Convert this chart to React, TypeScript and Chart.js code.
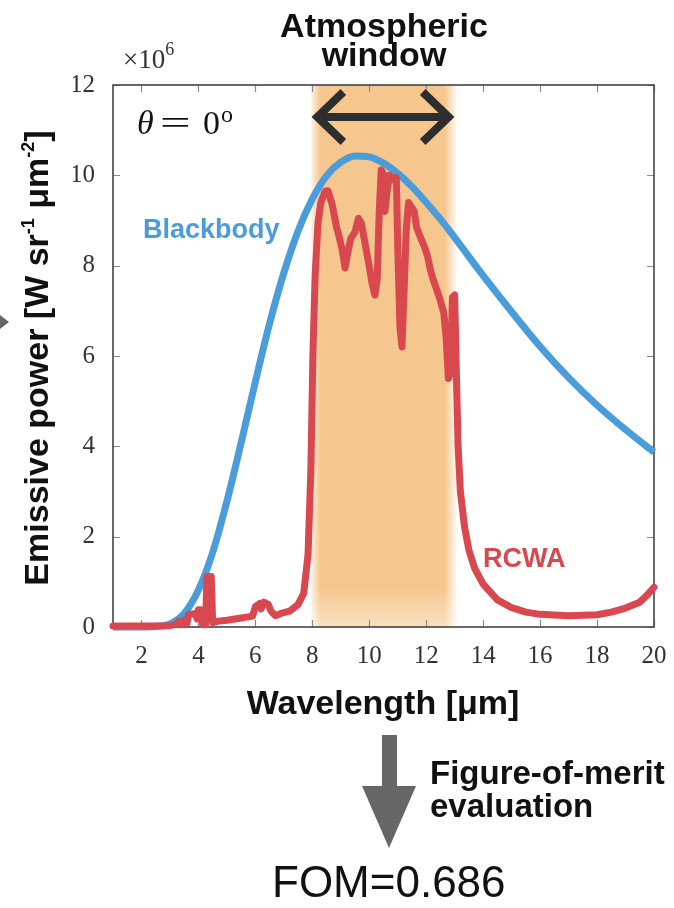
import React, { useEffect, useRef } from 'react';
import { Chart, registerables } from 'chart.js';
Chart.register(...registerables);

// ---------- data ----------
const BB_WL = [1, 1.5, 2, 2.5, 3, 3.5, 4, 4.5, 5, 5.5, 6, 6.5, 7, 7.5, 8, 8.5, 9, 9.5, 10, 10.5, 11, 11.5, 12, 12.5, 13, 14, 15, 16, 17, 18, 19, 20];
const BB_VAL = [0, 0, 0, 0.01, 0.07, 0.3, 0.82, 1.65, 2.78, 4.08, 5.43, 6.72, 7.84, 8.77, 9.48, 9.99, 10.29, 10.43, 10.41, 10.27, 10.04, 9.75, 9.4, 9.03, 8.62, 7.78, 6.98, 6.21, 5.52, 4.91, 4.37, 3.87];

const RCWA_WL = [1, 2, 3, 3.2, 3.3, 3.4, 3.5, 3.6, 3.65, 3.9, 3.95, 4.0, 4.1, 4.15, 4.25, 4.3, 4.45, 4.5, 4.7, 5.0, 5.5, 5.9, 6.0, 6.15, 6.2, 6.3, 6.45, 6.55, 6.7, 6.9, 7.2, 7.5, 7.7, 7.85, 7.95, 8.02, 8.1, 8.2, 8.3, 8.45, 8.55, 8.7, 8.85, 8.95, 9.05, 9.15, 9.25, 9.35, 9.5, 9.62, 9.72, 9.85, 9.98, 10.1, 10.2, 10.28, 10.35, 10.42, 10.48, 10.55, 10.62, 10.7, 10.78, 10.85, 10.95, 11.0, 11.08, 11.15, 11.22, 11.3, 11.38, 11.5, 11.58, 11.66, 11.75, 11.85, 11.95, 12.05, 12.15, 12.25, 12.35, 12.45, 12.55, 12.62, 12.7, 12.78, 12.85, 12.92, 13.0, 13.06, 13.12, 13.2, 13.35, 13.5, 13.7, 14.0, 14.5, 15.0, 15.5, 16.0, 17.0, 18.0, 18.5, 19.0, 19.5, 19.75, 20.0];
const RCWA_VAL = [0.02, 0.02, 0.03, 0.06, 0.12, 0.05, 0.15, 0.08, 0.28, 0.3, 0.18, 0.38, 0.38, 0.05, 0.05, 1.12, 1.12, 0.1, 0.13, 0.15, 0.2, 0.24, 0.45, 0.52, 0.4, 0.55, 0.5, 0.35, 0.25, 0.3, 0.35, 0.5, 0.75, 1.6, 3.5, 6.0, 7.8, 8.95, 9.4, 9.65, 9.66, 9.35, 8.85, 8.62, 8.35, 7.95, 8.3, 8.6, 8.75, 9.05, 8.95, 8.5, 8.05, 7.6, 7.35, 7.7, 9.2, 10.12, 10.05, 9.2, 9.6, 10.0, 9.95, 9.9, 9.95, 8.4, 6.6, 6.2, 7.4, 8.8, 9.4, 9.28, 9.2, 8.85, 8.7, 8.55, 8.4, 8.2, 7.9, 7.68, 7.5, 7.32, 7.1, 6.95, 6.4, 5.5, 5.6, 7.3, 7.35, 5.6, 4.0, 3.0, 2.2, 1.7, 1.3, 0.95, 0.6, 0.43, 0.33, 0.28, 0.25, 0.27, 0.33, 0.42, 0.55, 0.7, 0.88];

const X_TICKS = [2, 4, 6, 8, 10, 12, 14, 16, 18, 20];
const Y_TICKS = [0, 2, 4, 6, 8, 10, 12];
const WINDOW_START = 8;
const WINDOW_END = 13;

const BLUE = 'rgb(74,156,218)';
const RED = 'rgb(216,72,78)';
const SANS = '"Liberation Sans", Arial, sans-serif';
const SERIF = '"Liberation Serif", "Times New Roman", serif';

const W = 674;
const H = 908;

const bandPlugin = {
  id: 'band',
  beforeDatasetsDraw(chart: any) {
    const { ctx, chartArea, scales } = chart;
    const x0 = scales.x.getPixelForValue(WINDOW_START);
    const x1 = scales.x.getPixelForValue(WINDOW_END);
    const a = x0 - 1, b = x1 + 2, w = b - a;
    ctx.save();
    const g = ctx.createLinearGradient(a, 0, b, 0);
    const c = (o: number) => `rgba(245,199,142,${o})`;
    g.addColorStop(0, c(0.25));
    g.addColorStop(9 / w, c(1));
    g.addColorStop(1 - 12 / w, c(1));
    g.addColorStop(1, c(0.1));
    ctx.fillStyle = g;
    ctx.fillRect(a, chartArea.top, w, chartArea.bottom - chartArea.top);
    const gv = ctx.createLinearGradient(0, chartArea.bottom - 40, 0, chartArea.bottom);
    gv.addColorStop(0, 'rgba(255,255,255,0)');
    gv.addColorStop(1, 'rgba(255,255,255,0.45)');
    ctx.fillStyle = gv;
    ctx.fillRect(a, chartArea.bottom - 40, w, 40);
    ctx.restore();
  },
};

const framePlugin = {
  id: 'frame',
  beforeDatasetsDraw(chart: any) {
    const { ctx, chartArea: ca, scales } = chart;
    ctx.save();
    ctx.strokeStyle = '#8a8a8a';
    ctx.lineWidth = 1.2;
    ctx.beginPath();
    for (const t of scales.x.ticks) {
      const px = Math.round(scales.x.getPixelForValue(t.value)) + 0.5;
      ctx.moveTo(px, ca.bottom); ctx.lineTo(px, ca.bottom - 7);
      ctx.moveTo(px, ca.top); ctx.lineTo(px, ca.top + 7);
    }
    for (const t of scales.y.ticks) {
      const py = Math.round(scales.y.getPixelForValue(t.value)) + 0.5;
      ctx.moveTo(ca.left, py); ctx.lineTo(ca.left + 7, py);
      ctx.moveTo(ca.right, py); ctx.lineTo(ca.right - 7, py);
    }
    ctx.stroke();
    ctx.strokeStyle = '#444';
    ctx.lineWidth = 1.6;
    ctx.strokeRect(ca.left, ca.top, ca.right - ca.left, ca.bottom - ca.top);
    ctx.restore();
  },
};

function drawRuns(ctx: CanvasRenderingContext2D, runs: { t: string; f: string; dy: number }[], x: number, y: number, align: 'left' | 'center') {
  let total = 0;
  for (const r of runs) { ctx.font = r.f; total += ctx.measureText(r.t).width; }
  let cx = align === 'center' ? x - total / 2 : x;
  ctx.textAlign = 'left';
  for (const r of runs) {
    ctx.font = r.f;
    ctx.fillText(r.t, cx, y + r.dy);
    cx += ctx.measureText(r.t).width;
  }
}

const textPlugin = {
  id: 'texts',
  afterDraw(chart: any) {
    const { ctx, scales } = chart;
    ctx.save();
    ctx.textBaseline = 'alphabetic';

    // top title
    ctx.fillStyle = '#111';
    ctx.font = `bold 34px ${SANS}`;
    ctx.textAlign = 'center';
    ctx.fillText('Atmospheric', 384, 37);
    ctx.fillText('window', 384, 66);

    // x10^6
    ctx.fillStyle = '#333';
    drawRuns(ctx, [
      { t: '×10', f: `27px ${SERIF}`, dy: 0 },
      { t: '6', f: `18px ${SERIF}`, dy: -13 },
    ], 123, 68, 'left');

    // theta = 0 deg
    ctx.fillStyle = '#111';
    ctx.textAlign = 'left';
    ctx.font = `italic 34px ${SERIF}`;
    ctx.fillText('θ', 137, 134);
    ctx.font = `34px ${SERIF}`;
    ctx.save();
    ctx.translate(160, 134);
    ctx.scale(1.6, 1);
    ctx.fillText('=', 0, 0);
    ctx.restore();
    ctx.fillText('0', 203, 134);
    ctx.font = `24px ${SERIF}`;
    ctx.fillText('o', 221, 122);

    // double arrow
    const xa = scales.x.getPixelForValue(WINDOW_START) + 1;
    const xb = scales.x.getPixelForValue(WINDOW_END) - 2;
    const ya = 117;
    ctx.strokeStyle = '#2e2e2e';
    ctx.lineWidth = 8;
    ctx.lineCap = 'butt';
    ctx.lineJoin = 'miter';
    ctx.beginPath();
    ctx.moveTo(xa + 6, ya); ctx.lineTo(xb - 6, ya);
    ctx.stroke();
    ctx.beginPath();
    ctx.moveTo(xa + 30, ya - 25); ctx.lineTo(xa + 4, ya); ctx.lineTo(xa + 30, ya + 25);
    ctx.moveTo(xb - 30, ya - 25); ctx.lineTo(xb - 4, ya); ctx.lineTo(xb - 30, ya + 25);
    ctx.stroke();

    // series labels
    ctx.font = `bold 27px ${SANS}`;
    ctx.textAlign = 'left';
    ctx.fillStyle = BLUE;
    ctx.fillText('Blackbody', 143, 238);
    ctx.fillStyle = RED;
    ctx.fillText('RCWA', 483, 567);

    // y-axis title (rotated)
    ctx.fillStyle = '#111';
    ctx.save();
    ctx.translate(48, 358);
    ctx.rotate(-Math.PI / 2);
    drawRuns(ctx, [
      { t: 'Emissive power [W sr', f: `bold 34px ${SANS}`, dy: 0 },
      { t: '-1', f: `bold 18px ${SANS}`, dy: -14 },
      { t: ' μm', f: `bold 34px ${SANS}`, dy: 0 },
      { t: '-2', f: `bold 18px ${SANS}`, dy: -14 },
      { t: ']', f: `bold 34px ${SANS}`, dy: 0 },
    ], 0, 0, 'center');
    ctx.restore();

    // x-axis title
    ctx.fillStyle = '#111';
    ctx.font = `bold 34px ${SANS}`;
    ctx.textAlign = 'center';
    ctx.fillText('Wavelength [μm]', 383, 714);

    // small cropped arrow at the left edge
    ctx.fillStyle = '#666';
    ctx.beginPath();
    ctx.moveTo(0, 315); ctx.lineTo(9, 322); ctx.lineTo(0, 329);
    ctx.closePath();
    ctx.fill();

    // big down arrow
    ctx.fillStyle = '#666';
    ctx.fillRect(382, 735, 15, 53);
    ctx.beginPath();
    ctx.moveTo(362, 786); ctx.lineTo(416, 786); ctx.lineTo(389, 848);
    ctx.closePath();
    ctx.fill();

    ctx.fillStyle = '#111';
    ctx.font = `bold 33px ${SANS}`;
    ctx.textAlign = 'left';
    ctx.fillText('Figure-of-merit', 430, 784);
    ctx.fillText('evaluation', 430, 817);

    ctx.font = `44px ${SANS}`;
    ctx.fillText('FOM=0.686', 272, 897);

    ctx.restore();
  },
};

export default function App() {
  const ref = useRef<HTMLCanvasElement>(null);
  useEffect(() => {
    const canvas = ref.current!;
    const chart = new Chart(canvas, {
      type: 'scatter',
      data: {
        datasets: [
          {
            label: 'RCWA',
            data: RCWA_WL.map((x, i) => ({ x, y: RCWA_VAL[i] })),
            showLine: true,
            borderColor: RED,
            backgroundColor: RED,
            borderWidth: 7,
            pointRadius: 0,
            tension: 0,
            borderJoinStyle: 'round',
            borderCapStyle: 'round',
            clip: false,
          },
          {
            label: 'Blackbody',
            data: BB_WL.map((x, i) => ({ x, y: BB_VAL[i] })),
            showLine: true,
            borderColor: BLUE,
            backgroundColor: BLUE,
            borderWidth: 7,
            pointRadius: 0,
            cubicInterpolationMode: 'monotone',
            borderJoinStyle: 'round',
            clip: false,
          },
        ],
      } as any,
      options: {
        animation: false,
        responsive: false,
        devicePixelRatio: 1,
        layout: { padding: { left: 73, top: 85, right: 20, bottom: 231 } },
        plugins: { legend: { display: false }, tooltip: { enabled: false } },
        scales: {
          x: {
            type: 'linear',
            min: 1,
            max: 20,
            grid: { display: false, drawTicks: false },
            border: { display: false },
            afterBuildTicks: (s: any) => { s.ticks = X_TICKS.map((v) => ({ value: v })); },
            afterFit: (s: any) => { s.height = 50; s.paddingLeft = 0; s.paddingRight = 0; },
            ticks: { padding: 14, color: '#333', font: { family: SERIF, size: 25 }, maxRotation: 0 },
          },
          y: {
            type: 'linear',
            min: 0,
            max: 12,
            grid: { display: false, drawTicks: false },
            border: { display: false },
            afterBuildTicks: (s: any) => { s.ticks = Y_TICKS.map((v) => ({ value: v })); },
            afterFit: (s: any) => { s.width = 40; s.paddingTop = 0; s.paddingBottom = 0; },
            ticks: { padding: 18, color: '#333', font: { family: SERIF, size: 25 } },
          },
        },
      } as any,
      plugins: [bandPlugin, framePlugin, textPlugin],
    });
    return () => chart.destroy();
  }, []);
  return (
    <div style={{ position: 'absolute', left: 0, top: 0, width: W, height: H, background: '#fff' }}>
      <canvas ref={ref} width={W} height={H} style={{ display: 'block' }} />
    </div>
  );
}
